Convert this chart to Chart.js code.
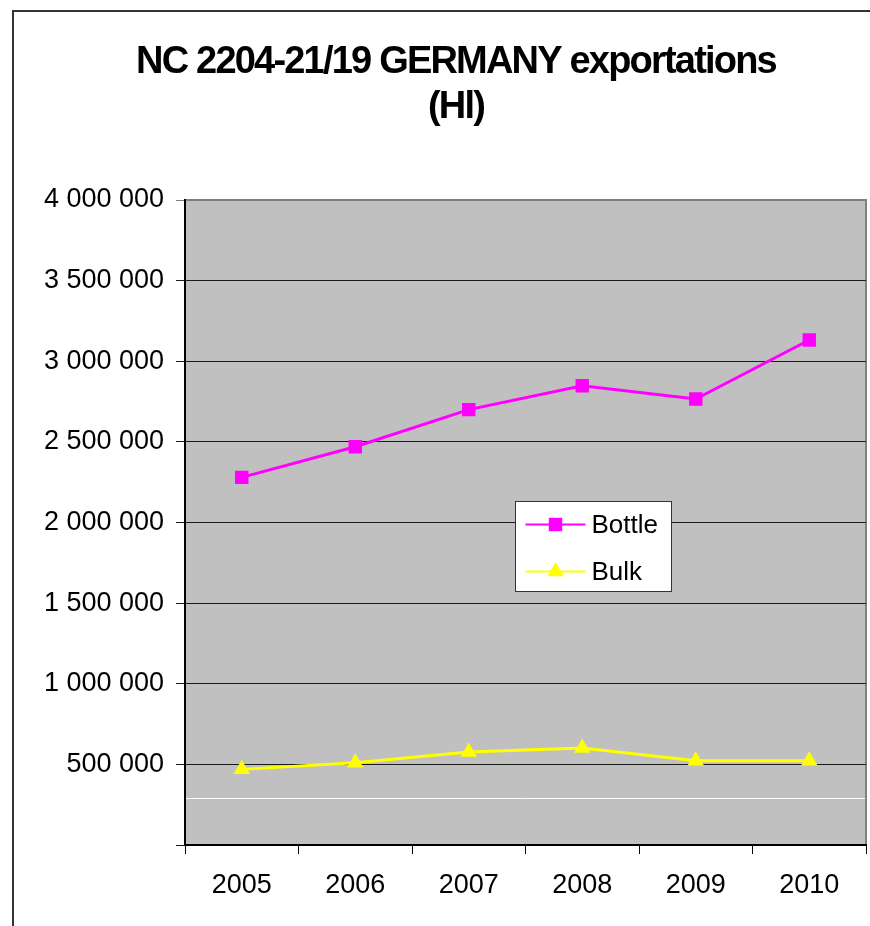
<!DOCTYPE html>
<html>
<head>
<meta charset="utf-8">
<script src="https://cdn.jsdelivr.net/npm/chart.js@4.4.1/dist/chart.umd.min.js"></script>
<style>
  html, body { margin: 0; padding: 0; background: #ffffff; }
  #wrap { width: 870px; height: 926px; position: relative; }
</style>
</head>
<body>
<div id="wrap"><canvas id="c" width="870" height="926"></canvas></div>
<script>
// ---- Data ----
const years = ['2005', '2006', '2007', '2008', '2009', '2010'];
const bottle = [2280000, 2470000, 2700000, 2848000, 2766000, 3132000];
const bulk = [469000, 510000, 577000, 601000, 523000, 523000];
const seriesNames = ['Bottle', 'Bulk'];
const titleLines = ['NC 2204-21/19 GERMANY exportations', '(Hl)'];
const yMin = 0, yMax = 4000000, yStep = 500000;
const whiteLineValue = 290000;

const FONT = '"Liberation Sans", Arial, sans-serif';

function fmt(v) {
  if (v === 0) return '';
  const s = String(Math.round(v));
  return s.replace(/\B(?=(\d{3})+(?!\d))/g, ' ');
}

const bgPlugin = {
  id: 'bgPlugin',
  beforeDraw(chart) {
    const ctx = chart.ctx, a = chart.chartArea;
    ctx.save();
    ctx.fillStyle = '#ffffff';
    ctx.fillRect(0, 0, chart.width, chart.height);
    // outer frame
    ctx.strokeStyle = '#333333';
    ctx.lineWidth = 2;
    ctx.beginPath();
    ctx.moveTo(13, chart.height);
    ctx.lineTo(13, 11);
    ctx.lineTo(chart.width, 11);
    ctx.stroke();
    // plot area
    ctx.fillStyle = '#c0c0c0';
    ctx.fillRect(a.left, a.top, a.right - a.left, a.bottom - a.top);
    ctx.strokeStyle = '#808080';
    ctx.lineWidth = 2;
    ctx.strokeRect(a.left, a.top, a.right - a.left, a.bottom - a.top);
    ctx.restore();
  },
  beforeDatasetsDraw(chart) {
    const ctx = chart.ctx, a = chart.chartArea;
    const y = Math.round(chart.scales.y.getPixelForValue(whiteLineValue)) + 0.5;
    ctx.save();
    ctx.strokeStyle = '#ffffff';
    ctx.lineWidth = 1;
    ctx.beginPath();
    ctx.moveTo(a.left + 1, y);
    ctx.lineTo(a.right - 1, y);
    ctx.stroke();
    ctx.restore();
  },
  afterDraw(chart) {
    // title, drawn with tight letter spacing like the original
    const ctx = chart.ctx;
    const tb = chart.titleBlock;
    const lh = 45;
    ctx.save();
    ctx.fillStyle = '#000000';
    ctx.font = 'bold 38px ' + FONT;
    if ('letterSpacing' in ctx) ctx.letterSpacing = '-1.8px';
    ctx.textAlign = 'center';
    ctx.textBaseline = 'middle';
    const cx = chart.width / 2 + 21;
    titleLines.forEach((t, i) => {
      ctx.fillText(t, cx, tb.top + 40 + lh / 2 + i * lh);
    });
    ctx.restore();
  }
};

const legendPlugin = {
  id: 'boxLegend',
  afterDatasetsDraw(chart) {
    const ctx = chart.ctx, a = chart.chartArea;
    const w = a.right - a.left, h = a.bottom - a.top;
    const bx = Math.round(a.left + 0.485 * w) + 0.5;
    const by = Math.round(a.top + 0.466 * h) + 0.5;
    const bw = 156, bh = 90;
    ctx.save();
    ctx.fillStyle = '#ffffff';
    ctx.fillRect(bx, by, bw, bh);
    ctx.strokeStyle = '#333333';
    ctx.lineWidth = 1;
    ctx.strokeRect(bx, by, bw, bh);
    chart.data.datasets.forEach((ds, i) => {
      const cy = by + 23 + i * 47;
      ctx.strokeStyle = ds.borderColor;
      ctx.lineWidth = 2;
      ctx.beginPath();
      ctx.moveTo(bx + 10, cy);
      ctx.lineTo(bx + 70, cy);
      ctx.stroke();
      ctx.fillStyle = ds.pointBackgroundColor;
      Chart.helpers.drawPoint(ctx, {
        pointStyle: ds.pointStyle, radius: ds.pointRadius, borderWidth: 0, rotation: 0
      }, bx + 40, cy);
      ctx.fillStyle = '#000000';
      ctx.font = '26px ' + FONT;
      ctx.textBaseline = 'middle';
      ctx.textAlign = 'left';
      ctx.fillText(ds.label, bx + 76, cy + 1);
    });
    ctx.restore();
  }
};

new Chart(document.getElementById('c'), {
  type: 'line',
  data: {
    labels: years,
    datasets: [
      {
        label: seriesNames[0], data: bottle,
        borderColor: '#ff00ff', backgroundColor: '#ff00ff',
        pointBackgroundColor: '#ff00ff', pointBorderColor: '#ff00ff',
        pointStyle: 'rect', pointRadius: 9.5, pointBorderWidth: 0,
        borderWidth: 3, tension: 0
      },
      {
        label: seriesNames[1], data: bulk,
        borderColor: '#ffff00', backgroundColor: '#ffff00',
        pointBackgroundColor: '#ffff00', pointBorderColor: '#ffff00',
        pointStyle: 'triangle', pointRadius: 9.5, pointBorderWidth: 0,
        borderWidth: 3, tension: 0
      }
    ]
  },
  options: {
    responsive: false,
    animation: false,
    layout: { autoPadding: false, padding: { left: 0, right: 4, top: 0, bottom: 0 } },
    plugins: {
      legend: { display: false },
      tooltip: { enabled: false },
      title: {
        display: true,
        text: titleLines,
        color: 'rgba(0,0,0,0)',
        font: { family: FONT, size: 36, weight: 'bold', lineHeight: 1.25 },
        padding: { top: 40, bottom: 70 }
      }
    },
    scales: {
      x: {
        offset: true,
        grid: { display: true, offset: true, drawOnChartArea: false, tickLength: 9, color: '#000000', lineWidth: 1 },
        border: { display: true, color: '#000000', width: 2 },
        ticks: { color: '#000000', font: { family: FONT, size: 27 }, padding: 15, maxRotation: 0 },
        afterFit(s) { s.height = 81; }
      },
      y: {
        min: yMin, max: yMax,
        grid: {
          tickLength: 9,
          color: (c) => (c.tick && c.tick.value === yMax) ? '#808080' : '#1a1a1a',
          lineWidth: 1
        },
        border: { display: true, color: '#000000', width: 2 },
        ticks: {
          stepSize: yStep, color: '#000000', font: { family: FONT, size: 27 }, padding: 12,
          callback: (v) => fmt(v)
        },
        afterFit(s) { s.width = 185; }
      }
    }
  },
  plugins: [bgPlugin, legendPlugin]
});
</script>
</body>
</html>
